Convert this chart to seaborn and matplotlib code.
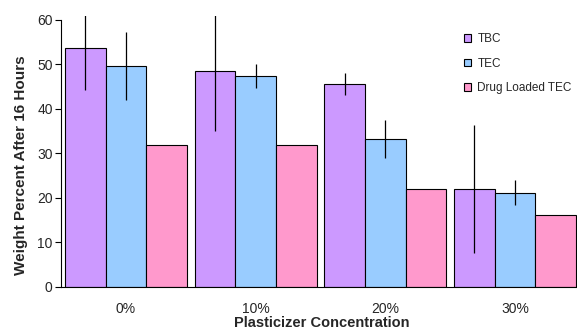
import matplotlib
matplotlib.use('Agg')
import matplotlib.pyplot as plt
import seaborn as sns
import pandas as pd
import numpy as np

# Data
concentrations = ['0%', '10%', '20%', '30%']
series_names = ['TBC', 'TEC', 'Drug Loaded TEC']
tbc_values = [53.8, 48.6, 45.6, 22.0]
tec_values = [49.7, 47.5, 33.3, 21.1]
drug_values = [31.8, 31.8, 21.9, 16.1]
tbc_err = [9.6, 13.5, 2.4, 14.4]
tec_err = [7.7, 2.7, 4.3, 2.8]
drug_err = [0, 0, 0, 0]
colors = ['#CC99FF', '#99CCFF', '#FF99CC']

sns.set_style('white')
plt.rcParams['font.family'] = ['Liberation Sans', 'DejaVu Sans']

df = pd.DataFrame({
    'Concentration': concentrations * 3,
    'Series': np.repeat(series_names, len(concentrations)),
    'Value': tbc_values + tec_values + drug_values,
})
errors = [tbc_err, tec_err, drug_err]

fig = plt.figure(figsize=(5.77, 3.32), dpi=100)
ax = fig.add_axes([0.1057, 0.1364, 0.8995, 0.8142])

sns.barplot(data=df, x='Concentration', y='Value', hue='Series',
            hue_order=series_names, palette=colors, saturation=1, width=0.94, gap=0,
            errorbar=None, edgecolor='black', linewidth=0.8, ax=ax, legend=False)

# error bars on top of the bars (no caps)
for cont, err in zip(ax.containers, errors):
    xs = [p.get_x() + p.get_width() / 2 for p in cont.patches]
    ys = [p.get_height() for p in cont.patches]
    e = np.array(err, dtype=float)
    mask = e > 0
    ax.errorbar(np.array(xs)[mask], np.array(ys)[mask], yerr=e[mask],
                fmt='none', ecolor='black', elinewidth=0.9, capsize=0)

ax.set_xlim(-0.5, 3.5)
ax.set_ylim(0, 60.8)
ax.set_yticks(range(0, 61, 10))
ax.spines['left'].set_bounds(0, 60)
for s in ['top', 'right']:
    ax.spines[s].set_visible(False)
ax.spines['left'].set_color('black')
ax.spines['bottom'].set_color('black')
ax.spines['left'].set_linewidth(0.8)
ax.spines['bottom'].set_linewidth(0.8)

ax.set_xticks(range(len(concentrations)))
ax.set_xticklabels(concentrations)
ax.set_xticks([-0.5, 0.5, 1.5, 2.5], minor=True)
ax.tick_params(axis='x', which='major', length=0, labelsize=10, pad=11)
ax.tick_params(axis='x', which='minor', length=3, width=0.8, direction='out', color='black')
ax.tick_params(axis='y', length=4, width=0.8, direction='out', color='black', labelsize=10, pad=2, left=True)

ax.set_xlabel('Plasticizer Concentration', fontsize=10.5, fontweight='bold')
ax.xaxis.set_label_coords(0.503, -0.11)
ax.set_ylabel('Weight Percent After 16 Hours', fontsize=11, fontweight='bold')
ax.yaxis.set_label_coords(-0.064, 0.45)

handles = [plt.Rectangle((0, 0), 1, 1, facecolor=c, edgecolor='black', linewidth=0.8) for c in colors]
ax.legend(handles, series_names, loc='upper left', bbox_to_anchor=(0.768, 0.955),
          frameon=False, fontsize=8.5, handlelength=0.6, handleheight=0.6,
          handletextpad=0.5, labelspacing=1.05, borderaxespad=0)

plt.savefig('out.png', dpi=100)
plt.close()
